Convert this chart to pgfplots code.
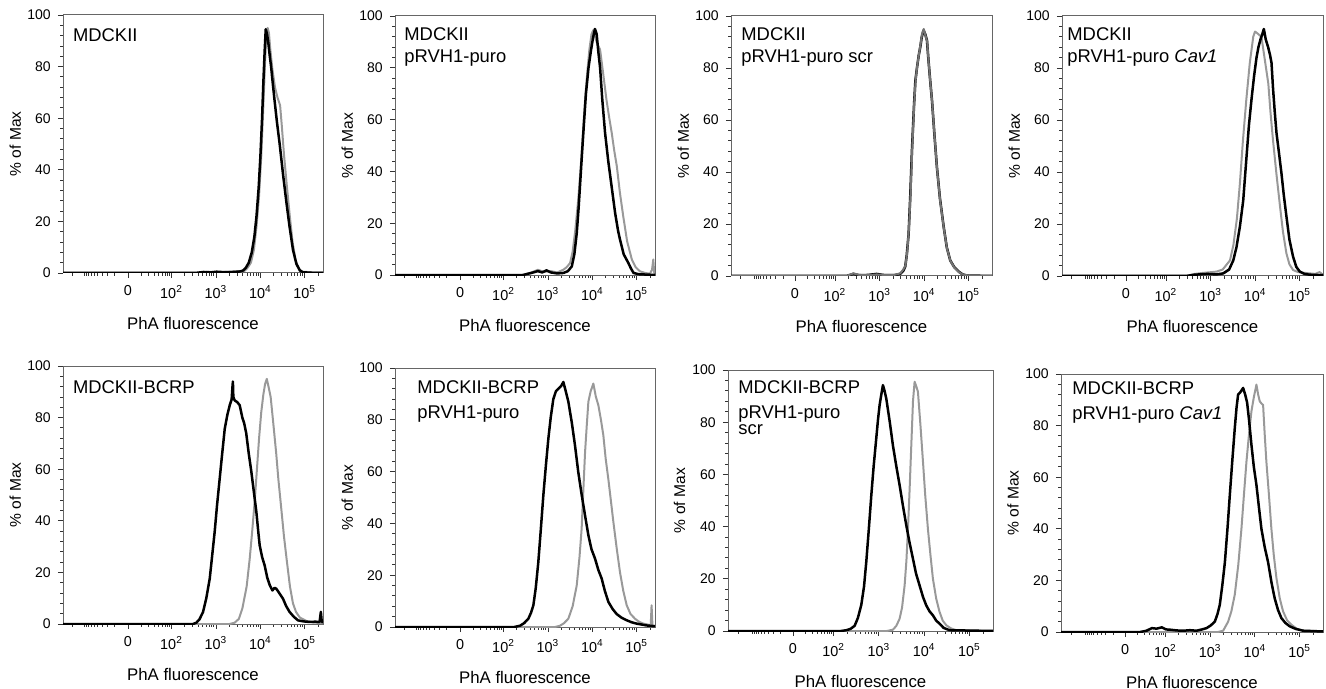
\documentclass[border=0pt]{standalone}
\usepackage{fontspec}
\setmainfont{Liberation Sans}
\usepackage{pgfplots}
\pgfplotsset{compat=1.18}

\pgfplotsset{
  fc/.style={
    scale only axis,
    anchor=south west,
    xmin=-1.48, xmax=4.58, ymin=0, ymax=100,
    axis line style={draw=black!60, line width=0.5pt},
    tick pos=left, tick align=outside,
    major tick length=2.6pt, minor tick length=1.4pt,
    every tick/.style={black!80, line width=0.45pt},
    xticklabels={0, 10\textsuperscript{2}, 10\textsuperscript{3}, 10\textsuperscript{4}, 10\textsuperscript{5}},
    ytick={0,20,40,60,80,100},
    minor y tick num=4,
    yticklabel style={font=\fontsize{7}{8}\selectfont},
    xticklabel style={font=\fontsize{7.2}{8}\selectfont},
    /pgf/number format/assume math mode=true,
    xlabel={PhA fluorescence},
    ylabel={\% of Max},
    xlabel style={font=\fontsize{8.4}{10}\selectfont, at={(axis description cs:0.5,-0.17)}, anchor=north, inner sep=0pt},
    ylabel style={font=\fontsize{7.8}{9}\selectfont, at={(axis description cs:-0.183,0.5)}, anchor=center, inner sep=0pt},
  },
  % tick positions of the left-hand panels
  fcA/.style={fc,
    xtick={0.035,1.05,2.085,3.12,4.155},
    minor xtick={-1.25,-0.98,-0.929,-0.879,-0.828,-0.757,-0.675,-0.57,-0.45,-0.27,
      0.34,0.52,0.64,0.745,0.827,0.898,0.949,0.999,
      1.362,1.544,1.673,1.773,1.855,1.924,1.984,2.037,
      2.397,2.579,2.708,2.808,2.890,2.959,3.019,3.072,
      3.432,3.614,3.743,3.843,3.925,3.994,4.054,4.107,4.467},
  },
  % tick positions of the right-hand panels
  fcB/.style={fc,
    xtick={0.005,0.935,1.97,3.005,4.04},
    minor xtick={-1.25,-0.925,-0.879,-0.832,-0.786,-0.72,-0.646,-0.553,-0.441,-0.274,
      0.284,0.451,0.563,0.656,0.730,0.796,0.842,0.889,
      1.247,1.429,1.558,1.658,1.740,1.809,1.869,1.922,
      2.282,2.464,2.593,2.693,2.775,2.844,2.904,2.957,
      3.317,3.499,3.628,3.728,3.810,3.879,3.939,3.992,4.352},
  },
}
\tikzset{
  blk/.style={black, line width=1.25pt, line join=round},
  gry/.style={black!40, line width=1pt, line join=round},
  ttl/.style={anchor=north west, inner sep=0pt, align=left},
}

\begin{document}
\begin{tikzpicture}
\path[use as bounding box] (0,0) rectangle (663pt,-344.5pt);

% ---------- top row ----------
\begin{axis}[fcA, at={(31.5pt,-136.5pt)}, width=130pt, height=129pt]
\addplot[gry] coordinates {(-1.48,0)(1.7,0)(1.9,0.5)(2.2,0.3)(2.5,0.6)(2.75,0.8)(2.82,2)(2.9,4)(2.97,9)(3.03,18)(3.09,30)(3.14,45)(3.19,65)(3.23,82)(3.26,92)(3.29,95)(3.32,93)(3.35,87)(3.40,79)(3.46,72)(3.52,68)(3.58,65)(3.62,57)(3.67,46)(3.73,35)(3.80,23)(3.87,12)(3.94,5)(4.02,1.5)(4.10,0.5)(4.3,0.3)(4.58,0.2)};
\addplot[blk] coordinates {(-1.48,0)(1.6,0)(1.8,0.4)(1.95,0.2)(2.1,0.5)(2.3,0.3)(2.5,0.4)(2.65,0.6)(2.72,1)(2.78,2)(2.85,4)(2.92,8)(2.98,14)(3.03,22)(3.08,33)(3.12,45)(3.16,60)(3.19,74)(3.22,86)(3.245,94.5)(3.27,93)(3.30,90)(3.34,84)(3.37,80)(3.40,75)(3.45,67)(3.51,58)(3.57,50)(3.65,38)(3.73,27)(3.80,18)(3.88,9)(3.96,3.5)(4.04,1)(4.11,0.3)(4.3,0.1)(4.58,0)};
\node[ttl, font=\fontsize{9.2}{11.3}\selectfont, xshift=4.85pt, yshift=-6.5pt] at (rel axis cs:0,1) {MDCKII};
\end{axis}

\begin{axis}[fcA, at={(197.5pt,-137.5pt)}, width=130pt, height=129.5pt]
\addplot[gry] coordinates {(-1.48,0)(1.5,0)(1.7,1)(1.85,2)(2.0,1.2)(2.15,1.5)(2.3,1)(2.44,2)(2.52,3)(2.6,4.6)(2.66,9)(2.72,17)(2.79,29)(2.85,42)(2.90,55)(2.95,67.5)(3.00,78)(3.05,87)(3.10,93)(3.14,94.5)(3.18,92)(3.24,89)(3.30,87)(3.37,78)(3.45,67.5)(3.51,61)(3.57,55)(3.63,48)(3.69,42)(3.76,32)(3.84,22.6)(3.93,13)(4.04,6)(4.13,3)(4.23,1.4)(4.35,0.8)(4.46,0.5)(4.51,2)(4.54,6)(4.56,1)(4.58,0.5)};
\addplot[blk] coordinates {(-1.48,0)(1.5,0)(1.7,0.8)(1.85,1.5)(1.95,1.0)(2.05,1.8)(2.15,1.0)(2.3,0.6)(2.45,0.8)(2.55,1.5)(2.64,3.3)(2.70,8)(2.755,16)(2.80,26)(2.86,42)(2.91,55)(2.97,70)(3.03,80)(3.09,87)(3.14,92)(3.18,95)(3.22,93)(3.26,86)(3.30,80)(3.35,68)(3.415,55)(3.49,44)(3.57,34)(3.65,24)(3.72,17)(3.765,13.6)(3.85,8)(3.96,4.6)(4.02,2.5)(4.08,0.8)(4.2,0.3)(4.58,0)};
\node[ttl, font=\fontsize{9.2}{11.3}\selectfont, xshift=4.5pt, yshift=-5.5pt] at (rel axis cs:0,1) {MDCKII\\pRVH1-puro};
\end{axis}

\begin{axis}[fcB, at={(365.5pt,-138pt)}, width=130.5pt, height=130pt]
\addplot[blk] coordinates {(-1.48,0)(1.2,0)(1.36,0.8)(1.5,0.3)(1.7,0.4)(1.9,0.8)(2.1,0.3)(2.3,0.3)(2.45,0.8)(2.52,2)(2.565,3.6)(2.60,8)(2.643,16)(2.68,30)(2.72,48)(2.77,66)(2.80,75)(2.837,80)(2.88,85)(2.914,88)(2.95,92)(2.99,94.5)(3.03,93)(3.07,90.6)(3.10,84)(3.14,76)(3.186,67.6)(3.24,55)(3.30,42)(3.37,30)(3.457,19)(3.53,11)(3.61,6)(3.70,3.5)(3.805,1.7)(3.9,0.6)(4.0,0.2)(4.58,0)};
\addplot[gry, black!55] coordinates {(-1.48,0)(1.2,0)(1.36,1)(1.5,0.4)(1.7,0.3)(1.9,0.6)(2.1,0.4)(2.3,0.4)(2.45,1)(2.52,2.5)(2.57,4)(2.61,9)(2.65,18)(2.69,32)(2.73,50)(2.775,67)(2.81,76)(2.845,81)(2.89,86)(2.92,89)(2.955,93)(2.995,95)(3.035,92.5)(3.075,90)(3.105,83)(3.145,75)(3.19,67)(3.245,54)(3.305,41)(3.375,29)(3.46,18.5)(3.535,10.5)(3.615,5.8)(3.705,3.2)(3.81,1.5)(3.91,0.5)(4.05,0.2)(4.58,0)};
\node[ttl, font=\fontsize{9.2}{11.3}\selectfont, xshift=5pt, yshift=-5.5pt] at (rel axis cs:0,1) {MDCKII\\pRVH1-puro scr};
\end{axis}

\begin{axis}[fcB, at={(531pt,-138pt)}, width=130.5pt, height=130pt]
\addplot[gry] coordinates {(-1.48,0)(1.4,0)(1.6,0.8)(1.8,1.2)(2.0,1.5)(2.11,1.7)(2.25,2.5)(2.42,6)(2.50,12)(2.58,22)(2.65,35.6)(2.72,52)(2.80,68)(2.88,82)(2.96,92)(3.00,94)(3.036,93.6)(3.08,93)(3.15,92)(3.23,83)(3.31,74)(3.36,63)(3.42,52)(3.50,39)(3.58,27)(3.65,17)(3.73,8.7)(3.80,4.5)(3.885,2.3)(4.0,1.5)(4.15,1.2)(4.27,1)(4.4,0.8)(4.5,1.5)(4.58,0.5)};
\addplot[blk] coordinates {(-1.48,0)(1.4,0)(1.6,0.5)(1.9,0.8)(2.1,0.6)(2.264,1)(2.40,2.5)(2.496,6)(2.57,11)(2.65,19)(2.727,29)(2.80,45)(2.86,58)(2.92,68)(2.98,77)(3.036,84)(3.08,88)(3.128,91)(3.17,93)(3.206,95)(3.25,91)(3.306,88)(3.35,85)(3.384,82)(3.42,72)(3.46,63)(3.50,55)(3.56,47)(3.615,39.5)(3.67,31)(3.73,23)(3.80,14)(3.885,7.4)(3.96,3.5)(4.04,1.7)(4.15,0.8)(4.27,0.5)(4.58,0.3)};
\node[ttl, font=\fontsize{9.2}{11.3}\selectfont, xshift=2.5pt, yshift=-5.5pt] at (rel axis cs:0,1) {MDCKII\\pRVH1-puro \textit{Cav1}};
\end{axis}

% ---------- bottom row ----------
\begin{axis}[fcA, at={(31.5pt,-312pt)}, width=130pt, height=129pt]
\addplot[gry] coordinates {(-1.48,0)(2.4,0)(2.52,0.5)(2.62,2)(2.70,6)(2.80,14.5)(2.87,25)(2.93,36)(2.99,48)(3.04,60)(3.09,72)(3.14,82)(3.19,89)(3.23,93)(3.27,95)(3.31,92)(3.36,88)(3.42,78)(3.49,66)(3.54,56)(3.60,46)(3.67,34)(3.74,24)(3.81,14.5)(3.88,8)(3.95,4.7)(4.04,2.5)(4.19,1.2)(4.35,0.6)(4.58,0.3)};
\addplot[blk] coordinates {(-1.48,0)(1.55,0)(1.628,0.5)(1.70,1.8)(1.783,4.6)(1.86,10)(1.94,17.6)(2.00,27)(2.055,35.7)(2.11,46)(2.17,56)(2.23,66)(2.29,75.7)(2.35,81)(2.406,84.8)(2.45,87)(2.47,92)(2.48,94)(2.49,88)(2.52,86.7)(2.58,86)(2.638,84.8)(2.70,80)(2.74,78)(2.79,74)(2.85,66)(2.91,59)(2.97,51)(3.027,43.4)(3.07,36)(3.104,30.5)(3.16,26)(3.22,22.7)(3.28,18)(3.34,15)(3.40,13)(3.45,14)(3.49,13.7)(3.56,12)(3.648,9.8)(3.72,7)(3.80,4.7)(3.90,2.8)(3.998,1.4)(4.13,1)(4.27,0.8)(4.40,0.9)(4.50,0.8)(4.53,4.7)(4.55,1)(4.58,0.5)};
\node[ttl, font=\fontsize{9.2}{12.8}\selectfont, xshift=4.85pt, yshift=-7pt] at (rel axis cs:0,1) {MDCKII-BCRP};
\end{axis}

\begin{axis}[fcA, at={(197.5pt,-313.5pt)}, width=130pt, height=129.5pt]
\addplot[gry] coordinates {(-1.48,0)(2.25,0)(2.366,0.5)(2.46,1.5)(2.56,3.2)(2.66,8)(2.755,16)(2.82,27)(2.87,38)(2.91,53)(2.95,67.6)(2.99,78)(3.027,87)(3.08,91)(3.143,94)(3.20,89)(3.26,85.6)(3.32,80)(3.376,74)(3.43,65)(3.493,57)(3.55,49)(3.61,40.5)(3.69,30)(3.765,21)(3.84,14)(3.92,8.4)(4.01,5)(4.114,3.2)(4.21,2)(4.31,1.3)(4.40,1)(4.48,0.6)(4.50,8.4)(4.52,0.6)(4.58,0.3)};
\addplot[blk] coordinates {(-1.48,0)(1.3,0)(1.434,0.5)(1.53,1.5)(1.628,3.2)(1.69,5.5)(1.745,8.4)(1.80,15)(1.86,25)(1.92,38)(1.978,51)(2.04,63)(2.094,72.7)(2.15,81)(2.21,88)(2.27,91)(2.327,92)(2.39,93)(2.444,94.6)(2.50,91)(2.56,87)(2.64,79)(2.716,70)(2.79,60)(2.871,51)(2.95,43)(3.027,35.4)(3.10,30)(3.182,26.4)(3.26,22)(3.337,18.7)(3.41,14)(3.493,9.7)(3.59,7)(3.687,5)(3.80,3.6)(3.92,2.6)(4.04,1.8)(4.153,1.3)(4.386,0.6)(4.58,0.3)};
\node[ttl, font=\fontsize{9.2}{12.8}\selectfont, xshift=11pt, yshift=-6pt] at (rel axis cs:0,1) {MDCKII-BCRP\\pRVH1-puro};
\end{axis}

\begin{axis}[fcB, at={(364pt,-315.5pt)}, width=132.5pt, height=130.5pt]
\addplot[gry] coordinates {(-1.48,0)(2.15,0)(2.292,0.5)(2.37,2)(2.444,4.7)(2.50,9)(2.559,17.5)(2.60,27)(2.635,39)(2.67,53)(2.711,71)(2.75,88)(2.787,95.5)(2.82,94)(2.863,91.7)(2.92,79)(2.978,65)(3.03,52)(3.092,39)(3.15,29)(3.206,20)(3.28,12.5)(3.358,7.3)(3.43,4)(3.511,2.2)(3.62,1)(3.74,0.3)(4.58,0)};
\addplot[blk] coordinates {(-1.48,0)(1.1,0)(1.225,0.3)(1.32,0.8)(1.416,2)(1.49,5)(1.568,10)(1.63,17)(1.682,26.5)(1.74,39)(1.797,52)(1.85,63)(1.91,73.8)(1.95,81)(1.987,86.6)(2.03,91)(2.063,94.2)(2.10,92)(2.14,89)(2.22,80)(2.292,71)(2.37,63)(2.444,55.9)(2.52,48)(2.597,40.5)(2.67,34)(2.749,27.7)(2.82,22)(2.90,17.5)(2.98,13)(3.054,9.8)(3.13,7.5)(3.206,6)(3.28,4)(3.358,2.8)(3.45,1.2)(3.587,0.3)(4.58,0)};
\node[ttl, font=\fontsize{9.2}{12.8}\selectfont, xshift=5pt, yshift=-5pt] at (rel axis cs:0,1) {MDCKII-BCRP\\pRVH1-puro\\[-5pt]scr};
\end{axis}

\begin{axis}[fcB, at={(530.5pt,-316pt)}, width=131pt, height=129pt]
\addplot[gry] coordinates {(-1.48,0)(2.15,0)(2.27,0.5)(2.385,4)(2.46,8)(2.539,14.5)(2.62,26)(2.693,40)(2.75,53)(2.809,66)(2.87,77)(2.924,85.5)(2.98,91)(3.04,95.9)(3.08,92)(3.117,89.4)(3.16,88.5)(3.194,88)(3.23,77)(3.27,66)(3.33,53)(3.386,40)(3.44,30)(3.502,21)(3.58,13)(3.656,8)(3.75,4.5)(3.85,2.8)(3.98,1.2)(4.118,0.5)(4.58,0.3)};
\addplot[blk] coordinates {(-1.48,0)(0.35,0)(0.499,0.5)(0.62,1.5)(0.73,1.3)(0.85,1.8)(0.95,1.0)(1.04,0.9)(1.2,0.6)(1.35,0.5)(1.5,0.7)(1.654,0.5)(1.78,1)(1.885,1.5)(1.98,2.5)(2.077,4)(2.14,7)(2.193,10.6)(2.25,18)(2.31,27)(2.37,40)(2.424,53)(2.48,66)(2.539,79)(2.58,87)(2.616,92)(2.67,93)(2.732,94.6)(2.78,92)(2.824,89)(2.87,82)(2.924,72.6)(2.98,64)(3.04,57)(3.10,48)(3.155,40)(3.23,33)(3.31,27)(3.39,19)(3.463,13)(3.54,8.5)(3.617,5.4)(3.71,3.5)(3.81,2.2)(3.95,1.2)(4.118,0.5)(4.58,0.2)};
\node[ttl, font=\fontsize{9.2}{12.8}\selectfont, xshift=5.5pt, yshift=-3.5pt] at (rel axis cs:0,1) {MDCKII-BCRP\\pRVH1-puro \textit{Cav1}};
\end{axis}
\end{tikzpicture}
\end{document}
